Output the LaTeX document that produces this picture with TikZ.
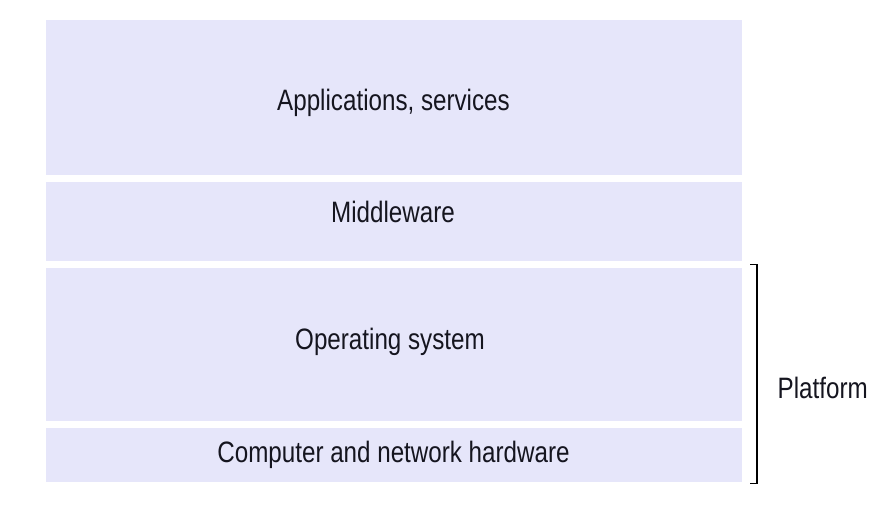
\documentclass[tikz,border=0pt]{standalone}
\usepackage{fontspec}
\setmainfont{Liberation Sans}[FakeStretch=0.82]
\definecolor{layerfill}{HTML}{E6E6FA}
\definecolor{txt}{HTML}{15151F}
\begin{document}
\begin{tikzpicture}[x=1pt,y=-1pt,
  layer/.style={draw=none,fill=layerfill,inner sep=0pt,minimum width=696pt},
  lbl/.style={anchor=base,inner sep=0pt,text=txt,font=\fontsize{29.5}{35}\selectfont},
  brack/.style={draw=black,line width=1.2pt}]
\useasboundingbox[fill=white] (0,0) rectangle (891,512);
\node[layer,minimum height=155pt] (app) at (394,97.5) {};
\node[layer,minimum height=78.5pt] (mid) at (394,221.25) {};
\node[layer,minimum height=153pt] (os) at (394,344) {};
\node[layer,minimum height=54pt] (hw) at (394,455) {};
\node[lbl] (tapp) at (393.5,110) {Applications, services};
\node[lbl] (tmid) at (393,222.5) {Middleware};
\node[lbl] (tos) at (390,349) {Operating system};
\node[lbl] (thw) at (393.5,462) {Computer and network hardware};
\node[lbl,anchor=base west] (plat) at (777.5,398.3) {Platform};
\coordinate (b1) at (750,264.5);
\coordinate (b2) at (757,264.5);
\coordinate (b3) at (757,483.5);
\coordinate (b4) at (750,483.5);
\draw[brack] (b1) -- (b2) -- (b3) -- (b4);
\end{tikzpicture}
\end{document}
